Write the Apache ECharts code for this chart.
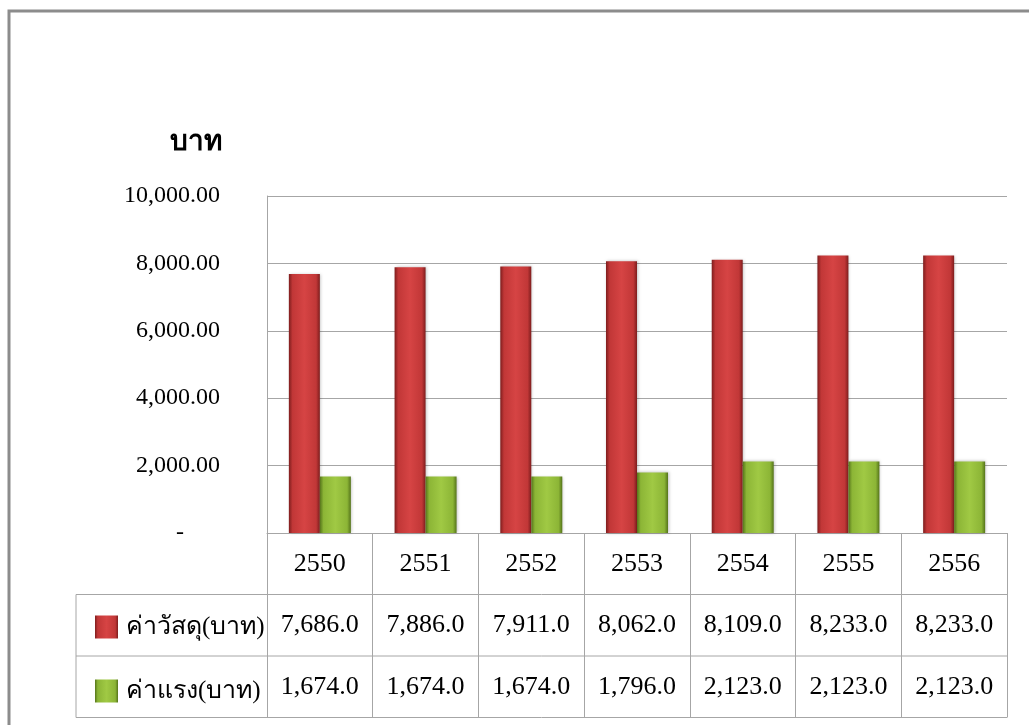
<!DOCTYPE html>
<html>
<head>
<meta charset="utf-8">
<script src="https://cdn.jsdelivr.net/npm/echarts@6/dist/echarts.min.js"></script>
<style>
  html, body { margin: 0; padding: 0; background: #fff; }
  #chart { width: 1029px; height: 725px; }
</style>
</head>
<body>
<div id="chart"></div>
<script>
// ข้อมูล
const years = ['2550', '2551', '2552', '2553', '2554', '2555', '2556'];
const materialCost = [7686, 7886, 7911, 8062, 8109, 8233, 8233];
const laborCost = [1674, 1674, 1674, 1796, 2123, 2123, 2123];
const seriesNames = ['ค่าวัสดุ(บาท)', 'ค่าแรง(บาท)'];
const yTicks = [0, 2000, 4000, 6000, 8000, 10000];

const serif = '"Liberation Serif", "Times New Roman", serif';
const lineColor = '#a6a6a6';

// layout of plot area
const gridLeft = 267, gridRight = 22, gridTop = 196, gridBottom = 192;
const rowH = 61.5;
const tableLeft = 76;

function fmt1(v) {
  return v.toLocaleString('en-US', { minimumFractionDigits: 1, maximumFractionDigits: 1 });
}

function barGradient(edge, mid, light) {
  return new echarts.graphic.LinearGradient(0, 0, 1, 0, [
    { offset: 0, color: edge },
    { offset: 0.12, color: mid },
    { offset: 0.5, color: light },
    { offset: 0.88, color: mid },
    { offset: 1, color: edge }
  ]);
}

let chart = echarts.init(document.getElementById('chart'));

const axisBottom = 725 - gridBottom;
const rightX = 1029 - gridRight;

let option = {
  animation: false,
  textStyle: { fontFamily: serif },
  grid: { left: gridLeft, right: gridRight, top: gridTop, bottom: gridBottom },
  legend: {
    orient: 'vertical',
    left: 90,
    top: axisBottom + rowH + 15,
    itemWidth: 23,
    itemHeight: 23,
    itemGap: 39,
    icon: 'rect',
    textStyle: { fontFamily: serif, fontSize: 25, color: '#000', padding: [0, 0, 0, 3] },
    data: seriesNames
  },
  xAxis: {
    type: 'category',
    data: years,
    axisLine: { show: true, lineStyle: { color: lineColor, width: 1 } },
    axisTick: { show: true, length: rowH * 3, lineStyle: { color: lineColor, width: 1 } },
    axisLabel: {
      margin: 0,
      interval: 0,
      fontFamily: serif,
      fontSize: 26,
      color: '#000',
      lineHeight: rowH,
      formatter: (v, i) => v + '\n' + fmt1(materialCost[i]) + '\n' + fmt1(laborCost[i])
    }
  },
  yAxis: {
    type: 'value',
    min: yTicks[0],
    max: yTicks[yTicks.length - 1],
    interval: 2000,
    name: 'บาท',
    nameLocation: 'end',
    nameGap: 53,
    nameTextStyle: {
      fontFamily: serif,
      fontSize: 28,
      fontWeight: 'bold',
      color: '#000',
      align: 'right',
      verticalAlign: 'middle',
      padding: [0, 45, 0, 0]
    },
    axisLine: { show: true, lineStyle: { color: lineColor, width: 1 } },
    axisTick: { show: false },
    splitLine: { show: true, lineStyle: { color: lineColor, width: 1 } },
    axisLabel: {
      margin: 47,
      fontFamily: serif,
      fontSize: 24,
      color: '#000',
      formatter: v => v === 0 ? '-      ' :
        v.toLocaleString('en-US', { minimumFractionDigits: 2, maximumFractionDigits: 2 })
    }
  },
  series: [
    {
      name: seriesNames[0],
      type: 'bar',
      data: materialCost,
      barWidth: 31,
      barGap: '0%',
      itemStyle: {
        color: barGradient('#7e1d1d', '#c13737', '#d64444'),
        shadowColor: 'rgba(0,0,0,0.25)',
        shadowBlur: 3,
        shadowOffsetX: 1
      }
    },
    {
      name: seriesNames[1],
      type: 'bar',
      data: laborCost,
      barWidth: 31,
      barGap: '0%',
      itemStyle: {
        color: barGradient('#55741a', '#8cb536', '#a0c944'),
        shadowColor: 'rgba(0,0,0,0.25)',
        shadowBlur: 3,
        shadowOffsetX: 1
      }
    }
  ],
  graphic: [
    // outer frame
    {
      type: 'rect',
      shape: { x: 9, y: 11, width: 1200, height: 900 },
      style: { fill: 'none', stroke: '#8c8c8c', lineWidth: 3 },
      silent: true
    },
    // table rows (series part)
    {
      type: 'polyline',
      shape: { points: [[rightX, axisBottom + rowH], [tableLeft, axisBottom + rowH], [tableLeft, axisBottom + rowH * 3], [rightX, axisBottom + rowH * 3]] },
      style: { fill: 'none', stroke: lineColor, lineWidth: 1 },
      silent: true
    },
    {
      type: 'line',
      shape: { x1: tableLeft, y1: axisBottom + rowH * 2, x2: rightX, y2: axisBottom + rowH * 2 },
      style: { stroke: lineColor, lineWidth: 1 },
      silent: true
    }
  ]
};

chart.setOption(option);
</script>
</body>
</html>
